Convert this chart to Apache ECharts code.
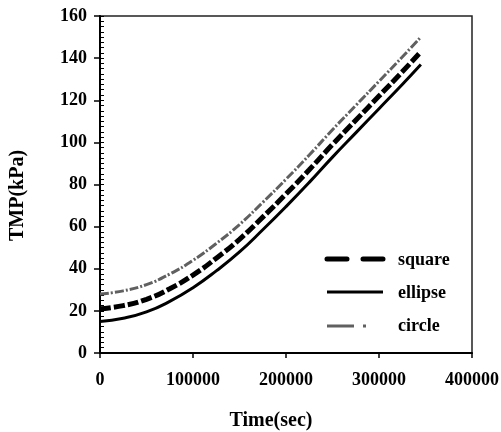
<!DOCTYPE html>
<html>
<head>
<meta charset="utf-8">
<script src="https://cdn.jsdelivr.net/npm/echarts@6/dist/echarts.min.js"></script>
<style>
  html, body { margin: 0; padding: 0; background: #fff; }
  #chart { width: 501px; height: 432px; }
</style>
</head>
<body>
<div id="chart"></div>
<script>
// time (sec) and TMP (kPa)
var times = [0, 25000, 50000, 75000, 100000, 125000, 150000, 175000, 200000, 225000, 250000, 275000, 300000, 325000, 345000];
var squareTmp = [21, 22.5, 25.5, 30.5, 37, 45, 54, 64.5, 75.5, 87, 99, 110.5, 122, 133.5, 143];
var ellipseTmp = [15, 16.5, 19.5, 24.5, 31, 39, 48, 58.5, 69.5, 81, 93, 104.5, 116, 127.5, 137];
var circleTmp = [28, 29.5, 32.5, 37.5, 44, 52, 61, 71.5, 82.5, 94, 106, 117.5, 129, 140.5, 150];
var seriesNames = ['square', 'ellipse', 'circle'];

function pairs(xs, ys) {
    return xs.map(function(x, i) { return [x, ys[i]]; });
}

var font = '"Liberation Serif", "Times New Roman", serif';

// legend keys are drawn as plain lines next to the legend text
var keyLeft = 327, keyRight = 383;
var keyRows = [259, 292, 326];
var keyStyles = [
    { stroke: '#000', lineWidth: 5, lineDash: [20, 16], lineCap: 'round' },
    { stroke: '#000', lineWidth: 3 },
    { stroke: '#606060', lineWidth: 3, lineDash: [27, 9, 3, 100] }
];

var chart = echarts.init(document.getElementById('chart'), null, { renderer: 'canvas' });

var option = {
    backgroundColor: '#fff',
    animation: false,
    grid: {
        left: 100, top: 16, right: 29, bottom: 79,
        outerBoundsMode: 'none',
        show: true,
        borderColor: '#222',
        borderWidth: 1.5
    },
    legend: {
        orient: 'vertical',
        left: 326,
        top: 245,
        itemWidth: 56,
        itemHeight: 14,
        itemGap: 13,
        icon: 'rect',
        itemStyle: { opacity: 0 },
        lineStyle: { opacity: 0 },
        textStyle: {
            fontFamily: font, fontWeight: 'bold', fontSize: 18, color: '#000',
            lineHeight: 20, padding: [0, 0, 0, 6]
        },
        data: seriesNames
    },
    graphic: keyRows.map(function(y, i) {
        return {
            type: 'line',
            silent: true,
            shape: { x1: keyLeft, y1: y, x2: keyRight, y2: y },
            style: keyStyles[i]
        };
    }),
    xAxis: {
        type: 'value',
        min: 0, max: 400000, interval: 100000,
        name: 'Time(sec)',
        nameLocation: 'middle',
        nameGap: 58,
        nameTextStyle: {
            fontFamily: font, fontWeight: 'bold', fontSize: 20, color: '#000',
            padding: [0, 30, 0, 0]
        },
        axisLine: { show: true, onZero: false, lineStyle: { color: '#000', width: 2 } },
        axisTick: { show: true, length: 5, lineStyle: { color: '#000', width: 1.5 } },
        axisLabel: {
            fontFamily: font, fontWeight: 'bold', fontSize: 18, color: '#000', margin: 18,
            formatter: function(v) { return String(v); }
        },
        splitLine: { show: false }
    },
    yAxis: [{
        type: 'value',
        min: 0, max: 160, interval: 20,
        name: 'TMP(kPa)',
        nameLocation: 'middle',
        nameGap: 72,
        nameTextStyle: {
            fontFamily: font, fontWeight: 'bold', fontSize: 20, color: '#000',
            padding: [0, 22, 0, 0]
        },
        axisLine: { show: true, onZero: false, lineStyle: { color: '#000', width: 2 } },
        axisTick: { show: true, length: 6, lineStyle: { color: '#000', width: 1.5 } },
        axisLabel: {
            fontFamily: font, fontWeight: 'bold', fontSize: 18, color: '#000', margin: 13
        },
        splitLine: { show: false }
    }, {
        // minor ticks, drawn inward on the same left axis
        type: 'value',
        position: 'left',
        min: 0, max: 160, interval: 2.5,
        axisLine: { show: false },
        axisTick: { show: true, inside: true, length: 4, lineStyle: { color: '#000', width: 1 } },
        axisLabel: { show: false },
        splitLine: { show: false }
    }],
    series: [
        {
            name: seriesNames[0],
            type: 'line',
            smooth: true,
            symbol: 'none',
            z: 3,
            itemStyle: { color: '#000' },
            lineStyle: { color: '#000', width: 5, type: [11, 3] },
            data: pairs(times, squareTmp)
        },
        {
            name: seriesNames[1],
            type: 'line',
            smooth: true,
            symbol: 'none',
            z: 2,
            itemStyle: { color: '#000' },
            lineStyle: { color: '#000', width: 3, type: 'solid' },
            data: pairs(times, ellipseTmp)
        },
        {
            name: seriesNames[2],
            type: 'line',
            smooth: true,
            symbol: 'none',
            z: 2,
            itemStyle: { color: '#606060' },
            lineStyle: { color: '#606060', width: 3, type: [9, 2, 2, 2] },
            data: pairs(times, circleTmp)
        }
    ]
};

chart.setOption(option);
</script>
</body>
</html>
